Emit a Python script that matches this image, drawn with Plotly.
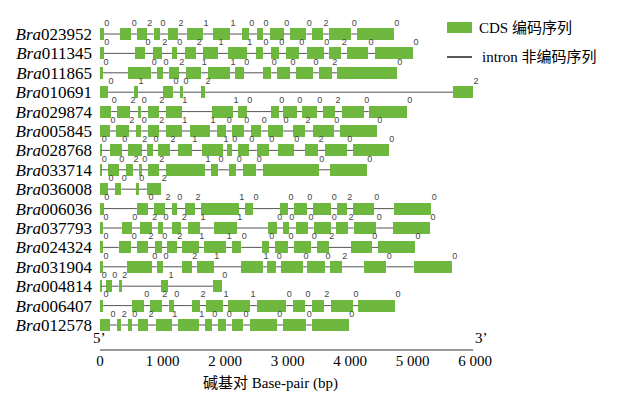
import plotly.graph_objects as go

# ---------------- data (base-pair coordinates) ----------------
genes = ["Bra023952", "Bra011345", "Bra011865", "Bra010691", "Bra029874", "Bra005845",
         "Bra028768", "Bra033714", "Bra036008", "Bra006036", "Bra037793", "Bra024324",
         "Bra031904", "Bra004814", "Bra006407", "Bra012578"]

exons_Bra023952 = [(0, 60), (320, 500), (590, 750), (860, 960), (1090, 1250), (1390, 1650), (1810, 2080),
                   (2270, 2380), (2510, 2610), (2720, 2940), (3040, 3300), (3390, 3570), (3660, 4020), (4110, 4700)]
phases_Bra023952 = [0, 0, 2, 0, 2, 1, 1, 0, 0, 0, 0, 2, 0, 0]

exons_Bra011345 = [(0, 60), (560, 720), (850, 990), (1150, 1230), (1360, 1540), (1650, 1890), (2050, 2350),
                   (2500, 2610), (2740, 2860), (2980, 3180), (3310, 3580), (3660, 3860), (3950, 4290), (4400, 5010)]
phases_Bra011345 = [0, 0, 2, 0, 2, 1, 1, 0, 0, 0, 0, 2, 0, 0]

exons_Bra011865 = [(0, 50), (450, 820), (910, 1010), (1100, 1260), (1380, 1620), (1730, 2080), (2160, 2300),
                   (2610, 2740), (2830, 3040), (3140, 3410), (3500, 3710), (3790, 4750)]
phases_Bra011865 = [0, 0, 0, 2, 1, 1, 0, 0, 0, 0, 2, 0]

exons_Bra010691 = [(0, 130), (540, 610), (1010, 1170), (1280, 1330), (1620, 1680), (5650, 5970)]
phases_Bra010691 = [0, 1, 0, 0, 2, 2]

exons_Bra029874 = [(0, 180), (270, 480), (610, 660), (770, 940), (1060, 1310), (1790, 2130), (2210, 2350),
                   (2740, 2860), (2930, 3150), (3230, 3470), (3570, 3760), (3870, 4220), (4300, 4910)]
phases_Bra029874 = [0, 2, 0, 2, 1, 1, 0, 0, 0, 0, 2, 0, 0]

exons_Bra005845 = [(0, 160), (260, 460), (580, 660), (770, 940), (1060, 1310), (1440, 1760), (1870, 2020),
                   (2110, 2300), (2420, 2580), (2690, 2930), (3090, 3280), (3410, 3740), (3840, 4430)]
phases_Bra005845 = [0, 2, 0, 2, 1, 1, 0, 0, 0, 0, 2, 0, 0]

exons_Bra028768 = [(0, 20), (160, 350), (450, 670), (750, 850), (930, 1120), (1250, 1470), (1630, 1970),
                   (2030, 2110), (2210, 2380), (2510, 2700), (2850, 3100), (3280, 3490), (3600, 3950), (4050, 4620)]
phases_Bra028768 = [0, 0, 2, 0, 2, 1, 1, 0, 0, 0, 0, 2, 0, 0]

exons_Bra033714 = [(0, 20), (130, 300), (420, 530), (620, 670), (770, 940), (1060, 1680), (1780, 1890),
                   (2060, 2180), (2290, 2500), (2610, 3500), (3680, 4270)]
phases_Bra033714 = [0, 0, 2, 0, 2, 1, 0, 0, 0, 0, 0]

exons_Bra036008 = [(0, 130), (240, 340), (580, 620), (750, 980)]
phases_Bra036008 = [0, 0, 0, 2]

exons_Bra006036 = [(0, 60), (590, 770), (860, 1040), (1150, 1230), (1360, 1520), (1620, 2220), (2320, 2450),
                   (2880, 3010), (3100, 3310), (3410, 3700), (3790, 3950), (4050, 4380), (4700, 5300)]
phases_Bra006036 = [0, 0, 2, 0, 2, 1, 0, 0, 0, 0, 2, 0, 0]

exons_Bra037793 = [(0, 50), (350, 510), (640, 830), (930, 1010), (1150, 1300), (1410, 1600), (1820, 2190),
                   (2690, 2830), (2930, 3020), (3140, 3330), (3420, 3700), (3780, 3970), (4060, 4420), (4690, 5280)]
phases_Bra037793 = [0, 0, 2, 0, 2, 1, 1, 0, 0, 0, 0, 2, 0, 0]

exons_Bra024324 = [(0, 50), (300, 500), (590, 770), (880, 990), (1070, 1230), (1310, 1580), (1660, 2020),
                   (2110, 2260), (2590, 2700), (2800, 3010), (3100, 3380), (3470, 3660), (4020, 4350), (4450, 5040)]
phases_Bra024324 = [0, 0, 2, 0, 2, 1, 1, 0, 0, 0, 0, 2, 0, 0]

exons_Bra031904 = [(0, 50), (430, 830), (910, 1010), (1310, 1470), (1550, 1820), (2260, 2610), (2670, 2820),
                   (2900, 3250), (3310, 3600), (3680, 3870), (4220, 4580), (5020, 5630)]
phases_Bra031904 = [0, 0, 0, 2, 1, 1, 0, 0, 0, 2, 0, 0]

exons_Bra004814 = [(0, 20), (100, 190), (300, 350), (980, 1090), (1810, 1950)]
phases_Bra004814 = [0, 0, 2, 1, 0]

exons_Bra006407 = [(0, 50), (510, 700), (800, 990), (1100, 1180), (1470, 1600), (1700, 1970), (2050, 2400),
                   (2510, 2980), (3090, 3280), (3390, 3580), (3700, 4050), (4130, 4720)]
phases_Bra006407 = [0, 0, 2, 0, 2, 1, 1, 0, 0, 2, 0, 0]

exons_Bra012578 = [(0, 160), (270, 340), (450, 510), (610, 770), (900, 1150), (1250, 1580), (1680, 1790),
                   (1890, 2020), (2110, 2290), (2400, 2830), (2930, 3300), (3390, 3980)]
phases_Bra012578 = [0, 2, 0, 2, 1, 1, 0, 0, 0, 0, 0, 0]

x_tickvals = [0, 1000, 2000, 3000, 4000, 5000, 6000]
x_ticktext = ["0", "1 000", "2 000", "3 000", "4 000", "5 000", "6 000"]
scale_end = 5970  # end of the 5'-3' scale bar (bp)

gene_exons = [exons_Bra023952, exons_Bra011345, exons_Bra011865, exons_Bra010691, exons_Bra029874,
              exons_Bra005845, exons_Bra028768, exons_Bra033714, exons_Bra036008, exons_Bra006036,
              exons_Bra037793, exons_Bra024324, exons_Bra031904, exons_Bra004814, exons_Bra006407,
              exons_Bra012578]
gene_phases = [phases_Bra023952, phases_Bra011345, phases_Bra011865, phases_Bra010691, phases_Bra029874,
               phases_Bra005845, phases_Bra028768, phases_Bra033714, phases_Bra036008, phases_Bra006036,
               phases_Bra037793, phases_Bra024324, phases_Bra031904, phases_Bra004814, phases_Bra006407,
               phases_Bra012578]

# ---------------- styling ----------------
GREEN = "#6EB83F"
INTRON = "#555555"
SERIF = "Liberation Serif, Times New Roman, serif"
CJK = "Liberation Serif, Noto Sans CJK SC, serif"

PAGE_OFF = 8                 # default <body> margin of the html page
W, H = 620, 396              # window size
PL, PR, PT, PB = 100, 600, 14, 350   # plot area in window pixels
FW, FH = W - PAGE_OFF, H - PAGE_OFF
ML, MT = PL - PAGE_OFF, PT - PAGE_OFF
MR, MB = FW - (PR - PAGE_OFF), FH - (PB - PAGE_OFF)
PW, PH = PR - PL, PB - PT
BP_PER_PX = 16.0
X_RANGE = [0, PW * BP_PER_PX]
ROW_PX = 19.4
FIRST_ROW_PX = 34
Y_TOP = (PT - FIRST_ROW_PX) / ROW_PX
Y_BOT = (PB - FIRST_ROW_PX) / ROW_PX
HALF = 0.31


def px_x(px):
    return (px - PL) / PW


def px_y(py):
    return (PB - py) / PH


# ---------------- build traces ----------------
bar_y, bar_base, bar_len = [], [], []
ix, iy = [], []
tx, ty, tt = [], [], []
for i, (ex, ph) in enumerate(zip(gene_exons, gene_phases)):
    for (s, e) in ex:
        bar_y.append(i)
        bar_base.append(s)
        bar_len.append(max(e - s, 12))
    for a, b in zip(ex[:-1], ex[1:]):
        ix += [a[1], b[0], None]
        iy += [i, i, None]
    for (s, e), p in zip(ex, ph):
        tx.append(e + 3 * BP_PER_PX)
        ty.append(i - HALF)
        tt.append(str(p))

fig = go.Figure()
fig.add_trace(go.Scatter(x=ix, y=iy, mode="lines", line=dict(color=INTRON, width=1),
                         hoverinfo="skip", showlegend=False))
fig.add_trace(go.Bar(orientation="h", y=bar_y, base=bar_base, x=bar_len, width=2 * HALF,
                     marker=dict(color=GREEN, line=dict(width=0)), showlegend=False))
fig.add_trace(go.Scatter(x=tx, y=ty, mode="text", text=tt, textposition="top center",
                         textfont=dict(family="Liberation Sans, Arial, sans-serif", size=9, color="#444444"),
                         hoverinfo="skip", showlegend=False, cliponaxis=False))

# scale bar
fig.add_shape(type="line", xref="x", yref="paper", x0=0, x1=scale_end, y0=0, y1=0,
              line=dict(color="#333333", width=1))

annotations = [
    dict(x=0, y=px_y(338), xref="x", yref="paper", text="5’", showarrow=False,
         font=dict(family=SERIF, size=15, color="black"), xanchor="center", yanchor="middle", xshift=-1),
    dict(x=scale_end, y=px_y(338), xref="x", yref="paper", text="3’", showarrow=False,
         font=dict(family=SERIF, size=15, color="black"), xanchor="left", yanchor="middle"),
    dict(x=px_x(270), y=px_y(383), xref="paper", yref="paper", text="碱基对 Base-pair (bp)", showarrow=False,
         font=dict(family=CJK, size=15, color="black"), xanchor="center", yanchor="middle"),
    dict(x=px_x(477), y=px_y(28), xref="paper", yref="paper", text="CDS 编码序列", showarrow=False,
         font=dict(family=CJK, size=15, color="black"), xanchor="left", yanchor="middle"),
    dict(x=px_x(480), y=px_y(57), xref="paper", yref="paper", text="intron 非编码序列", showarrow=False,
         font=dict(family=CJK, size=15, color="black"), xanchor="left", yanchor="middle"),
]

# legend symbols
fig.add_shape(type="rect", xref="paper", yref="paper", x0=px_x(447), x1=px_x(472), y0=px_y(33), y1=px_y(22),
              fillcolor=GREEN, line=dict(width=0))
fig.add_shape(type="line", xref="paper", yref="paper", x0=px_x(447), x1=px_x(472), y0=px_y(57), y1=px_y(57),
              line=dict(color="#222222", width=1.5))

fig.update_layout(
    width=FW, height=FH, margin=dict(l=ML, r=MR, t=MT, b=MB, autoexpand=False),
    paper_bgcolor="white", plot_bgcolor="white", barmode="overlay", bargap=0,
    annotations=annotations,
    xaxis=dict(range=X_RANGE, tickvals=x_tickvals, ticktext=x_ticktext, showgrid=False, zeroline=False,
               showline=False, ticks="", automargin=False,
               tickfont=dict(family=SERIF, size=15, color="black"), fixedrange=True),
    yaxis=dict(range=[Y_BOT, Y_TOP], tickvals=list(range(len(genes))), automargin=False,
               ticktext=["<i>Bra</i>" + g[3:] for g in genes], showgrid=False, zeroline=False,
               showline=False, ticks="", ticklabelstandoff=7,
               tickfont=dict(family=SERIF, size=17, color="black"), fixedrange=True),
)

fig.write_html("out.html")
